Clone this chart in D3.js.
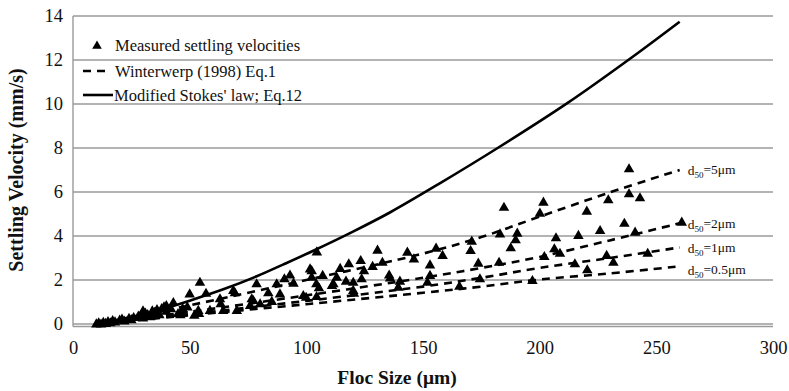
<!DOCTYPE html>
<html>
<head>
<meta charset="utf-8">
<script src="https://cdn.jsdelivr.net/npm/d3@7"></script>
<style>
  body { margin: 0; background: #fff; }
  svg text { font-family: "Liberation Serif", "Times New Roman", serif; fill: #111; }
  .grid line { stroke: #9a9a9a; stroke-width: 1.4; }
  .tick-label { font-size: 18.5px; }
</style>
</head>
<body>
<svg id="chart" width="789" height="391"></svg>
<script>
// Measured settling velocities [floc size (um), velocity (mm/s)]
const measured = [
    [10, 0.03], [11, 0.08], [12, 0.02], [13, 0.1], [14, 0.05], [15, 0.13], [16, 0.08], [17, 0.18],
    [18, 0.12], [20, 0.2], [21, 0.25], [22, 0.16], [24, 0.28], [25, 0.22], [26, 0.32], [28, 0.38],
    [29, 0.42], [30, 0.3], [30, 0.62], [31, 0.52], [32, 0.45], [33, 0.35], [34, 0.62], [35, 0.55],
    [36, 0.68], [37, 0.45], [38, 0.72], [39, 0.8], [40, 0.6], [40, 0.86], [42, 0.72], [43, 1.0],
    [45, 0.5], [46, 0.44], [47, 0.72], [49, 0.8], [50, 1.39], [52, 0.42], [54, 0.5],
    [54.4, 1.92], [57, 1.42], [53.7, 0.64], [58.7, 0.64], [63, 1.17], [63.3, 0.94], [64.4, 0.64],
    [68.7, 1.55], [69.4, 1.44], [70.2, 0.64], [75.9, 0.86], [76.6, 1.17], [77.3, 1.09], [78.7, 1.85],
    [80.2, 0.94], [83.7, 1.44], [85.2, 1.05], [87.3, 1.85], [88.7, 1.39], [90.6, 2.08], [93, 2.25],
    [94.5, 1.88], [98.7, 1.32], [99.9, 1.24],
    [101.6, 2.53], [102.3, 2.45], [102.3, 2.15], [104.3, 1.85], [104.4, 1.27], [104.5, 3.3],
    [105.4, 1.67], [107, 2.23], [111, 1.77], [111.6, 1.85], [113, 2.15], [114.5, 2.55], [117, 1.97],
    [118.2, 2.76], [120.1, 1.55], [120.4, 1.42], [120.1, 1.92], [123.3, 2.91], [123.7, 2.08],
    [124.7, 2.45], [128.4, 2.64], [130.5, 3.38], [132.6, 2.83], [135.5, 2.25], [135.9, 2.12],
    [139.4, 1.7], [140.1, 1.97], [143.3, 3.29], [146.1, 2.98],
    [151.9, 1.92], [153, 2.71], [153, 2.23], [155.6, 3.47], [158.4, 3.14], [165.6, 1.74],
    [170.4, 3.36], [170.9, 3.79], [173.7, 2.79], [174.4, 2.08], [182.6, 2.83], [183, 4.12],
    [184.7, 5.33], [187.6, 3.49], [189.7, 3.85], [190.4, 4.15], [196.9, 2.0],
    [200.1, 5.06], [201.6, 5.56], [202, 3.09], [206.3, 3.44], [207, 3.94], [208.7, 3.24],
    [215.1, 2.76], [216.6, 4.05], [220.2, 5.15], [220.4, 2.49], [225.9, 4.27], [228.7, 3.14],
    [229.4, 5.67], [231.6, 2.83], [236.3, 4.6], [238.3, 7.08], [238.3, 5.94], [240.9, 4.2],
    [243, 5.76], [246.3, 3.24], [260.9, 4.65]
];

// Modified Stokes' law (Eq.12)
const stokes = [
    [10, 0], [20, 0.19], [30, 0.44], [40, 0.73], [50, 1.06], [65, 1.6], [79, 2.18], [90, 2.7],
    [103, 3.33], [120, 4.2], [136, 5.08], [157, 6.38], [182, 8.0], [212, 10.05], [239, 12.08], [260, 13.74]
];

// Winterwerp (1998) Eq.1 for four primary particle sizes
const winterwerpLabels = ["5", "2", "1", "0.5"];
const winterwerp5 = [[10, 0], [50, 0.85], [100, 2.0], [150, 3.2], [175, 3.95], [200, 4.88], [230, 5.98], [260, 7.0]];
const winterwerp2 = [[10, 0], [50, 0.55], [100, 1.3], [150, 2.1], [175, 2.55], [200, 3.05], [230, 3.8], [260, 4.58]];
const winterwerp1 = [[10, 0], [50, 0.45], [100, 1.05], [150, 1.7], [175, 2.1], [200, 2.55], [230, 3.0], [260, 3.48]];
const winterwerp05 = [[10, 0], [50, 0.4], [100, 0.9], [150, 1.42], [175, 1.7], [200, 2.02], [230, 2.3], [260, 2.62]];

const xTicks = [0, 50, 100, 150, 200, 250, 300];
const yTicks = [0, 2, 4, 6, 8, 10, 12, 14];

const svg = d3.select("#chart");

const x = d3.scaleLinear().domain([0, 300]).range([73, 773]);
const y = d3.scaleLinear().domain([0, 14]).range([324, 16]);

// horizontal gridlines
svg.append("g")
    .attr("class", "grid")
    .selectAll("line")
    .data(yTicks)
    .join("line")
    .attr("x1", x(0))
    .attr("x2", x(300))
    .attr("y1", d => y(d))
    .attr("y2", d => y(d));

// second bottom line and left axis line
svg.append("line")
    .attr("x1", x(0)).attr("x2", x(300))
    .attr("y1", y(0) + 2.5).attr("y2", y(0) + 2.5)
    .attr("stroke", "#9a9a9a").attr("stroke-width", 1.4);
svg.append("line")
    .attr("x1", x(0)).attr("x2", x(0))
    .attr("y1", y(14)).attr("y2", y(0) + 2.5)
    .attr("stroke", "#9a9a9a").attr("stroke-width", 1.4);

// axes: labels only
const xAxis = svg.append("g")
    .attr("transform", `translate(0,${y(0) + 13})`)
    .call(d3.axisBottom(x).tickValues(xTicks).tickSize(0).tickPadding(0));
xAxis.select(".domain").remove();
xAxis.selectAll("text").attr("class", "tick-label").attr("fill", "#111").attr("dy", "0.9em");

const yAxis = svg.append("g")
    .attr("transform", `translate(${x(0) - 10},0)`)
    .call(d3.axisLeft(y).tickValues(yTicks).tickSize(0).tickPadding(0));
yAxis.select(".domain").remove();
yAxis.selectAll("text").attr("class", "tick-label").attr("fill", "#111");

// curves
const line = d3.line()
    .x(d => x(d[0]))
    .y(d => y(d[1]))
    .curve(d3.curveCatmullRom);

const winterwerp = [winterwerp5, winterwerp2, winterwerp1, winterwerp05];

svg.append("g")
    .selectAll("path")
    .data(winterwerp)
    .join("path")
    .attr("d", line)
    .attr("fill", "none")
    .attr("stroke", "#000")
    .attr("stroke-width", 2.6)
    .attr("stroke-dasharray", "8,6");

svg.append("path")
    .datum(stokes)
    .attr("d", line)
    .attr("fill", "none")
    .attr("stroke", "#000")
    .attr("stroke-width", 2.6);

// measured points
const tri = d3.symbol().type(d3.symbolTriangle).size(48);

svg.append("g")
    .selectAll("path")
    .data(measured)
    .join("path")
    .attr("transform", d => `translate(${x(d[0])},${y(d[1]) + 1})`)
    .attr("d", tri)
    .attr("fill", "#000");

// d50 labels at the end of each dashed line
const labelOffsets = [0, 1, 1, 4];
const labelGroup = svg.append("g");
winterwerp.forEach((series, i) => {
    const last = series[series.length - 1];
    const t = labelGroup.append("text")
        .attr("x", x(last[0]) + 8)
        .attr("y", y(last[1]) + labelOffsets[i])
        .attr("font-size", 13.5)
        .attr("dy", "0.35em");
    t.append("tspan").text("d");
    t.append("tspan").attr("font-size", 9).attr("dy", "0.35em").text("50");
    t.append("tspan").attr("dy", "-0.3em").text("=" + winterwerpLabels[i] + "\u03bcm");
});

// legend
const legend = svg.append("g");
legend.append("path")
    .attr("transform", "translate(97,46)")
    .attr("d", d3.symbol().type(d3.symbolTriangle).size(40))
    .attr("fill", "#000");
legend.append("text").attr("x", 115).attr("y", 51).attr("font-size", 16.5)
    .text("Measured settling velocities");

legend.append("line")
    .attr("x1", 83).attr("x2", 110).attr("y1", 71).attr("y2", 71)
    .attr("stroke", "#000").attr("stroke-width", 2.6).attr("stroke-dasharray", "8,6");
legend.append("text").attr("x", 115).attr("y", 77).attr("font-size", 16.5)
    .text("Winterwerp (1998)  Eq.1");

legend.append("line")
    .attr("x1", 83).attr("x2", 113).attr("y1", 95).attr("y2", 95)
    .attr("stroke", "#000").attr("stroke-width", 2.6);
legend.append("text").attr("x", 114).attr("y", 101).attr("font-size", 16.5)
    .text("Modified Stokes' law; Eq.12");

// axis titles
svg.append("text")
    .attr("transform", `translate(23,170) rotate(-90)`)
    .attr("text-anchor", "middle")
    .attr("font-size", 20)
    .attr("font-weight", "bold")
    .text("Settling Velocity (mm/s)");

svg.append("text")
    .attr("x", 397)
    .attr("y", 384)
    .attr("text-anchor", "middle")
    .attr("font-size", 19.5)
    .attr("font-weight", "bold")
    .text("Floc Size (\u03bcm)");
</script>
</body>
</html>
